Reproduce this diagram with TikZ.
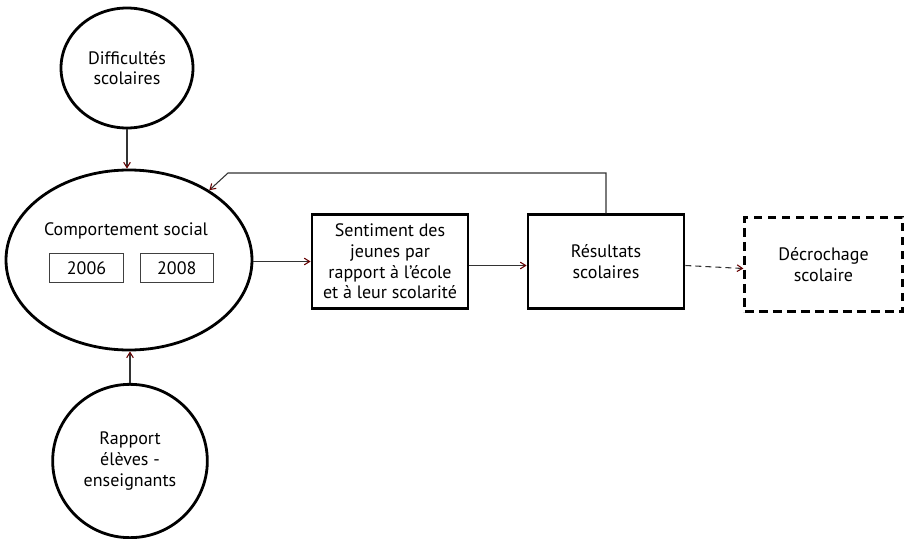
\documentclass[tikz,border=0pt]{standalone}
\usepackage{fontspec}
\setmainfont{PT Sans}
\usetikzlibrary{positioning,shapes.geometric,arrows.meta}

\begin{document}
\begin{tikzpicture}[
	x=0.75pt, y=-0.75pt,
	font=\fontsize{13.5}{15.5}\selectfont,
	estyle/.style={ellipse, draw, line width=2.1pt, inner sep=0pt, align=center},
	bstyle/.style={rectangle, draw, line width=2.1pt, minimum width=117pt,
	minimum height=70pt, align=center, inner sep=2pt},
	ystyle/.style={rectangle, draw=black!75, line width=0.7pt, minimum width=55pt,
	minimum height=22pt, inner sep=0pt},
	arr/.style={draw=black!80, line width=0.8pt,
	-{Straight Barb[length=4pt, width=5pt, color=red!40!black]}}
	]
	\useasboundingbox (0,0) rectangle (904,539);
	\node[estyle, minimum width=99pt, minimum height=90pt] (diff) at (127,68)
	{Difficultés\\scolaires};
	\node[estyle, minimum width=184.5pt, minimum height=135pt] (comp) at (129,260) {};
	\node (comptxt) at (126,231) {Comportement social};
	\node[ystyle] (y1) at (86.5,268) {2006};
	\node[ystyle] (y2) [right=12pt of y1] {2008};
	\node[estyle, minimum width=116pt, minimum height=115pt] (rap) at (130,461)
	{Rapport\\élèves -\\enseignants};
	\node[bstyle] (sent) at (390,261.5)
	{Sentiment des\\jeunes par\\rapport à l’école\\et à leur scolarité};
	\node[bstyle] (res) at (606,261.5) {Résultats\\scolaires};
	\node[bstyle, line width=2.2pt, dash pattern=on 6.5pt off 4pt,
	minimum width=118pt, minimum height=71pt] (dec) at (823.5,264.5)
	{Décrochage\\scolaire};
	
	\coordinate (fb) at (228,173);
	\draw[arr] (diff.south) to (diff.south |- comp.north);
	\draw[arr] (rap.north) to (rap.north |- comp.south);
	\draw[arr] (comp.east |- sent.west) to (sent.west);
	\draw[arr] ([yshift=-3pt]sent.east) to ([yshift=-3pt]res.west);
	\draw[arr, dash pattern=on 4.5pt off 3pt] ([yshift=-3pt]res.east)
	to ([yshift=-3pt]dec.west);
	\draw[arr] (res.north) |- (fb) -- (comp.41);
\end{tikzpicture}
\end{document}
